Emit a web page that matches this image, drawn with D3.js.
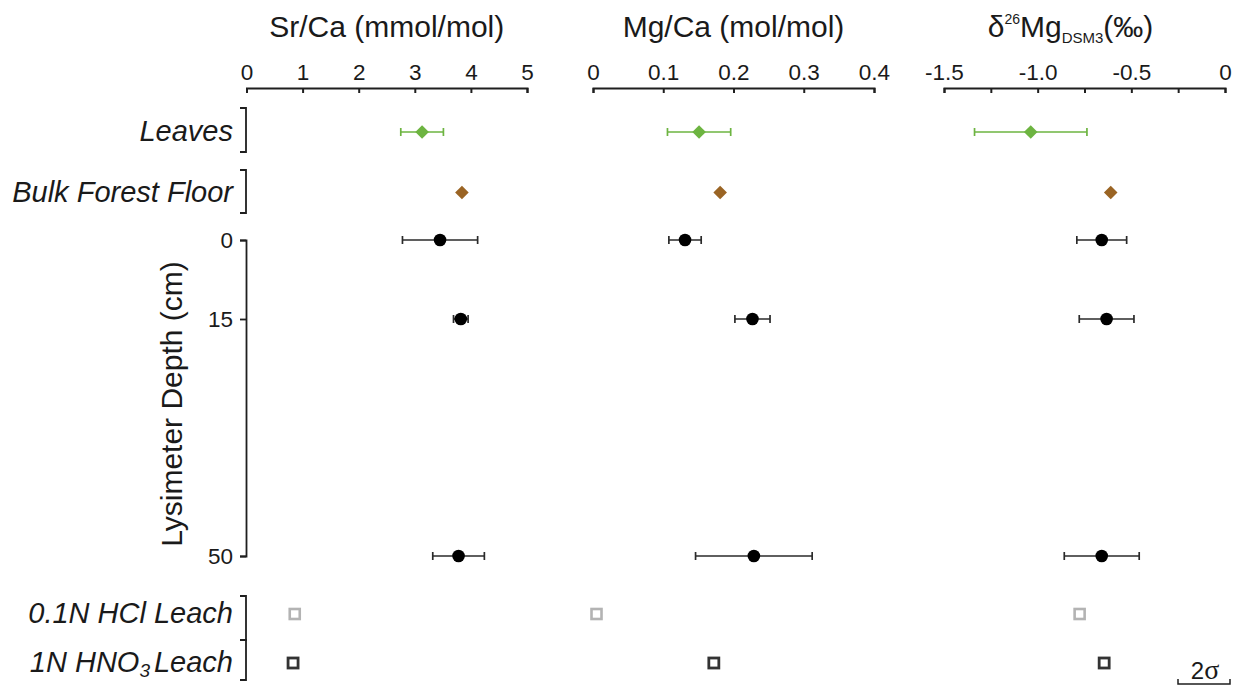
<!DOCTYPE html>
<html><head><meta charset="utf-8">
<script src="https://cdn.jsdelivr.net/npm/d3@7"></script>
<style>
body{margin:0;background:#fff;}
text{font-family:"Liberation Sans",Arial,Helvetica,sans-serif;fill:#1a1a1a;}
</style></head>
<body><svg id="chart" width="1237" height="688"></svg>
<script>
// ---------- data ----------
const depths = [0, 15, 50];
const depthTickLabels = ["0", "15", "50"];
const categories = ["Leaves", "Bulk Forest Floor", "0.1N HCl Leach", "1N HNO3 Leach"];

// per panel: [Sr/Ca, Mg/Ca, d26Mg]
const leavesVals = [3.13, 0.151, -1.037];
const leavesErr  = [0.38, 0.045, 0.30];
const floorVals  = [3.84, 0.181, -0.61];
const hclVals    = [0.86, 0.005, -0.776];
const hno3Vals   = [0.83, 0.172, -0.645];

const srCaSoil = [3.45, 3.82, 3.78];
const srCaSoilErr = [0.67, 0.13, 0.46];
const mgCaSoil = [0.131, 0.227, 0.229];
const mgCaSoilErr = [0.023, 0.025, 0.083];
const d26MgSoil = [-0.658, -0.632, -0.658];
const d26MgSoilErr = [0.133, 0.146, 0.20];

const srCaTicks = [0, 1, 2, 3, 4, 5];
const srCaTickLabels = ["0", "1", "2", "3", "4", "5"];
const mgCaTicks = [0, 0.1, 0.2, 0.3, 0.4];
const mgCaTickLabels = ["0", "0.1", "0.2", "0.3", "0.4"];
const d26Ticks = [-1.5, -1.25, -1.0, -0.75, -0.5, -0.25, 0];
const d26TickLabels = ["-1.5", "", "-1.0", "", "-0.5", "", "0"];

// ---------- layout ----------
const svg = d3.select("#chart");
const axisY = 88;
const panels = [
  {domain:[0,5], range:[246.5,527], ticks:srCaTicks, labels:srCaTickLabels, soil:srCaSoil, soilErr:srCaSoilErr},
  {domain:[0,0.4], range:[593,874], ticks:mgCaTicks, labels:mgCaTickLabels, soil:mgCaSoil, soilErr:mgCaSoilErr},
  {domain:[-1.5,0], range:[944,1225], ticks:d26Ticks, labels:d26TickLabels, soil:d26MgSoil, soilErr:d26MgSoilErr}
];
panels.forEach(p => p.x = d3.scaleLinear().domain(p.domain).range(p.range));

const yCat = d3.scaleOrdinal().domain(categories).range([132, 192.5, 614, 663]);
const yDepth = d3.scaleLinear().domain(depths).range([240, 319, 556]);

const green = "#6db441", brown = "#9a6424", dark = "#1f1f1f";

// ---------- top axes ----------
panels.forEach(p => {
  const ax = d3.axisTop(p.x).tickValues(p.ticks)
    .tickFormat((d,i) => p.labels[i])
    .tickSizeInner(-5).tickSizeOuter(-5).tickPadding(8);
  const g = svg.append("g").attr("transform", `translate(0,${axisY})`).call(ax);
  g.selectAll("path,line").attr("stroke", dark).attr("stroke-width", 2);
  g.selectAll("text").attr("font-size", 22.5).attr("font-family", '"Liberation Sans",Arial,sans-serif').attr("fill","#1a1a1a");
});

// titles
const titleY = 37;
svg.append("text").attr("x", d3.mean(panels[0].range)).attr("y", titleY)
  .attr("text-anchor","middle").attr("font-size", 30).text("Sr/Ca (mmol/mol)");
svg.append("text").attr("x", d3.mean(panels[1].range)).attr("y", titleY)
  .attr("text-anchor","middle").attr("font-size", 30).text("Mg/Ca (mol/mol)");
const t3 = svg.append("text").attr("x", d3.mean(panels[2].range) - 14).attr("y", titleY)
  .attr("text-anchor","middle").attr("font-size", 30);
t3.append("tspan").text("δ");
t3.append("tspan").attr("font-size", 14).attr("dy", -13).text("26");
t3.append("tspan").attr("dy", 13).text("Mg");
t3.append("tspan").attr("font-size", 15).attr("dy", 6).text("DSM3");
t3.append("tspan").attr("dy", -6).text("(‰)");

// ---------- left side: brackets & labels ----------
const bx = 246, tk = 6;
const bracket = (y0, y1) => `M${bx-tk},${y0}H${bx}V${y1}H${bx-tk}`;
const lineStyle = s => s.attr("fill","none").attr("stroke", dark).attr("stroke-width", 1.8);

svg.append("path").attr("d", bracket(yCat("Leaves")-24, yCat("Leaves")+20)).call(lineStyle);
svg.append("path").attr("d", bracket(yCat("Bulk Forest Floor")-22.5, yCat("Bulk Forest Floor")+20.5)).call(lineStyle);
const midLeach = (yCat("0.1N HCl Leach") + yCat("1N HNO3 Leach")) / 2;
svg.append("path").attr("d", bracket(yCat("0.1N HCl Leach")-18, midLeach+1.5)).call(lineStyle);
svg.append("path").attr("d", bracket(midLeach+1.5, yCat("1N HNO3 Leach")+17)).call(lineStyle);

const labelX = 233;
const catLabel = (name) => svg.append("text").attr("x", labelX).attr("y", yCat(name) - 1)
  .attr("text-anchor","end").attr("dominant-baseline","central")
  .attr("font-size", 29).attr("font-style","italic");
catLabel("Leaves").text("Leaves");
catLabel("Bulk Forest Floor").text("Bulk Forest Floor");
catLabel("0.1N HCl Leach").text("0.1N HCl Leach");
const hno = catLabel("1N HNO3 Leach");
hno.append("tspan").text("1N HNO");
hno.append("tspan").attr("font-size", 19).attr("dy", 8).text("3");
hno.append("tspan").attr("dy", -8).attr("dx", 4).text("Leach");

// depth axis
const dAx = d3.axisLeft(yDepth).tickValues(depths).tickFormat((d,i)=>depthTickLabels[i])
  .tickSizeInner(tk).tickSizeOuter(tk).tickPadding(7);
const dg = svg.append("g").attr("transform", `translate(${bx},0)`).call(dAx);
dg.selectAll("path,line").attr("stroke", dark).attr("stroke-width", 1.8);
dg.selectAll("text").attr("font-size", 22.5).attr("font-family", '"Liberation Sans",Arial,sans-serif').attr("fill","#1a1a1a");

svg.append("text").attr("transform", `translate(182,404) rotate(-90)`)
  .attr("text-anchor","middle").attr("font-size", 30).text("Lysimeter Depth (cm)");

// ---------- marks ----------
const errBar = (g, x, v, e, y, color) => {
  g.append("line").attr("x1", x(v-e)).attr("x2", x(v+e)).attr("y1", y).attr("y2", y)
    .attr("stroke", color).attr("stroke-width", 1.7);
  [v-e, v+e].forEach(b => g.append("line").attr("x1", x(b)).attr("x2", x(b))
    .attr("y1", y-4).attr("y2", y+4).attr("stroke", color).attr("stroke-width", 1.7));
};
const diamond = d3.symbol().type(d3.symbolSquare).size(92);

panels.forEach((p, i) => {
  const g = svg.append("g");
  // leaves
  errBar(g, p.x, leavesVals[i], leavesErr[i], yCat("Leaves"), green);
  g.append("path").attr("d", diamond())
    .attr("transform", `translate(${p.x(leavesVals[i])},${yCat("Leaves")}) rotate(45)`).attr("fill", green);
  // forest floor
  g.append("path").attr("d", diamond())
    .attr("transform", `translate(${p.x(floorVals[i])},${yCat("Bulk Forest Floor")}) rotate(45)`).attr("fill", brown);
  // lysimeter
  depths.forEach((d, j) => {
    errBar(g, p.x, p.soil[j], p.soilErr[j], yDepth(d), "#2a2a2a");
    g.append("circle").attr("cx", p.x(p.soil[j])).attr("cy", yDepth(d)).attr("r", 6.3).attr("fill", "#000");
  });
  // leaches
  g.append("rect").attr("x", p.x(hclVals[i]) - 5).attr("y", yCat("0.1N HCl Leach") - 5)
    .attr("width", 10).attr("height", 10).attr("fill","#fff").attr("stroke","#b3b3b3").attr("stroke-width", 2.6);
  g.append("rect").attr("x", p.x(hno3Vals[i]) - 5).attr("y", yCat("1N HNO3 Leach") - 5)
    .attr("width", 10).attr("height", 10).attr("fill","#fff").attr("stroke","#333").attr("stroke-width", 2.8);
});

// 2σ scale
const sg = svg.append("g");
sg.append("path").attr("d", "M1178,679V684H1230V679").attr("fill","none").attr("stroke", dark).attr("stroke-width", 1.5);
const st = sg.append("text").attr("x", 1205).attr("y", 679).attr("text-anchor","middle").attr("font-size", 24);
st.append("tspan").text("2");
st.append("tspan").attr("font-family",'"Liberation Serif","Times New Roman",serif').attr("font-size", 28).text("σ");
</script></body></html>
